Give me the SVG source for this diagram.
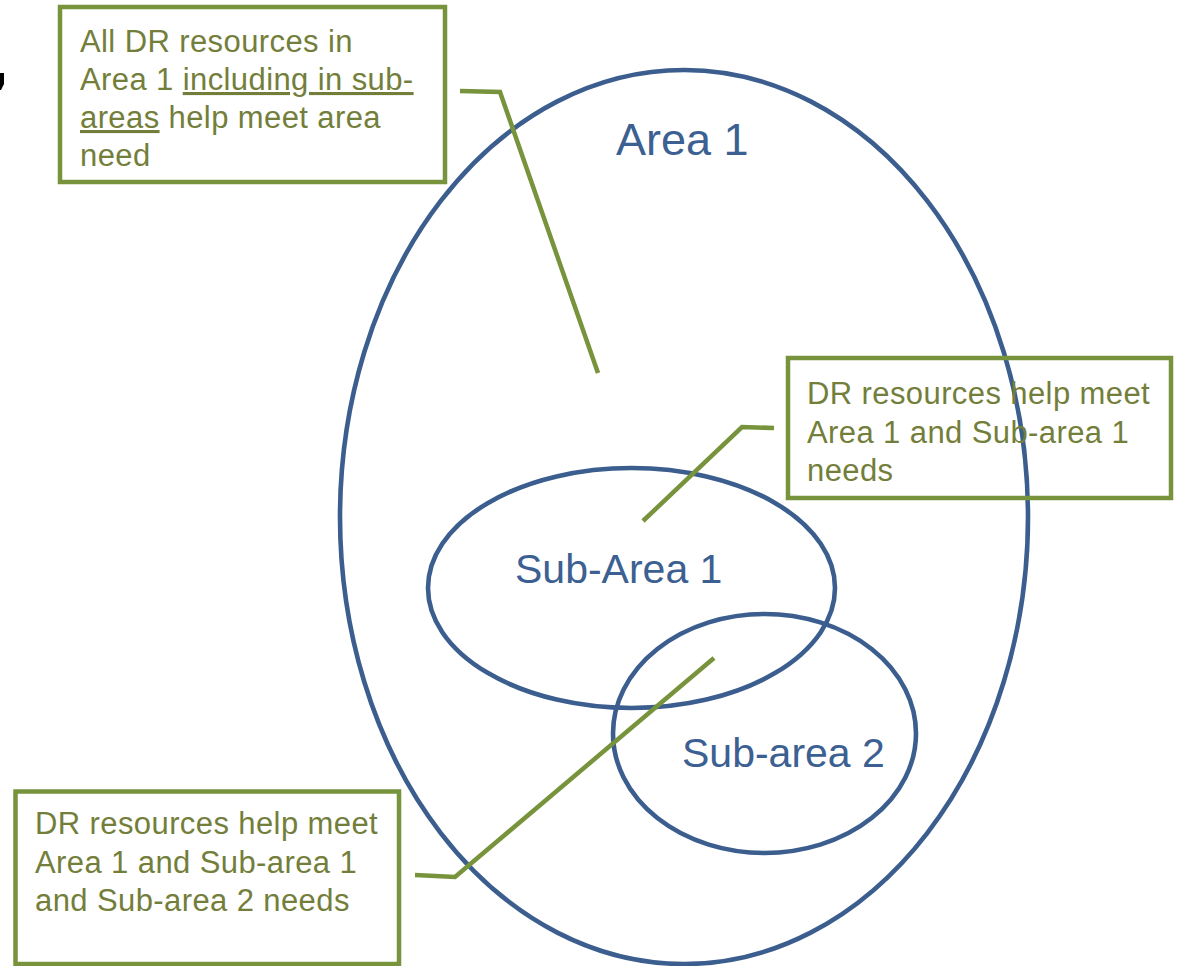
<svg xmlns="http://www.w3.org/2000/svg" width="1177" height="966" viewBox="0 0 1177 966">
<style>
.area{fill:none;stroke:#3B5E8F;stroke-width:4.6}
.box{fill:#FFFFFF;stroke:#77933C;stroke-width:4.5}
.conn{fill:none;stroke:#77933C;stroke-width:4.5;stroke-linejoin:miter}
.lbl{font-family:"Liberation Sans",Arial,sans-serif;fill:#3C6091}
.note{font-family:"Liberation Sans",Arial,sans-serif;font-size:31px;letter-spacing:0.4px;fill:#737E3B}
</style>
<rect x="0" y="0" width="1177" height="966" fill="#FFFFFF"/>
<path d="M0,73 L4,73 L4,84 L1,90 L0,90 Z" fill="#000000"/>
<g id="area1">
  <ellipse class="area" cx="684" cy="517" rx="344" ry="447"/>
  <text class="lbl" x="616" y="155" font-size="45">Area 1</text>
</g>
<g id="subarea1">
  <ellipse class="area" cx="631.5" cy="588" rx="203.5" ry="120"/>
  <text class="lbl" x="515" y="583" font-size="41">Sub-Area 1</text>
</g>
<g id="subarea2">
  <ellipse class="area" cx="764.5" cy="733.5" rx="151.5" ry="119.5"/>
  <text class="lbl" x="682" y="767" font-size="41">Sub-area 2</text>
</g>
<g id="connectors">
  <polyline class="conn" points="460,91 500,92 598,373"/>
  <polyline class="conn" points="774,428 742,427 643,521"/>
  <polyline class="conn" points="415,875 455,877 714,658"/>
</g>
<g id="note1">
  <rect class="box" x="60" y="7" width="385" height="175"/>
  <text class="note" x="80" y="52">All DR resources in</text>
  <text class="note" x="80" y="90">Area 1 <tspan text-decoration="underline">including in sub-</tspan></text>
  <text class="note" x="80" y="128"><tspan text-decoration="underline">areas</tspan> help meet area</text>
  <text class="note" x="80" y="166">need</text>
</g>
<g id="note2">
  <rect class="box" x="788" y="358" width="383" height="140" style="fill:none"/>
  <text class="note" x="807" y="404">DR resources help meet</text>
  <text class="note" x="807" y="443">Area 1 and Sub-area 1</text>
  <text class="note" x="807" y="481">needs</text>
</g>
<g id="note3">
  <rect class="box" x="15.5" y="791.5" width="383.5" height="172.5"/>
  <text class="note" x="35" y="834">DR resources help meet</text>
  <text class="note" x="35" y="873">Area 1 and Sub-area 1</text>
  <text class="note" x="35" y="911">and Sub-area 2 needs</text>
</g>
</svg>
